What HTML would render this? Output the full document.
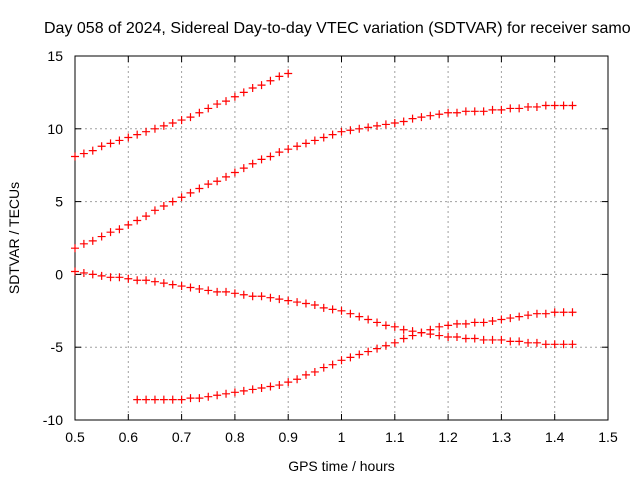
<!DOCTYPE html>
<html><head><meta charset="utf-8"><style>
body{margin:0;background:#fff}
svg{display:block;font-family:"Liberation Sans",sans-serif}
</style></head><body>
<svg id="chart" width="640" height="480"></svg>
<script>
const xTicks=[0.5,0.6,0.7,0.8,0.9,1,1.1,1.2,1.3,1.4,1.5];
const xTickLabels=["0.5","0.6","0.7","0.8","0.9","1","1.1","1.2","1.3","1.4","1.5"];
const yTicks=[-10,-5,0,5,10,15];
const yTickLabels=["-10","-5","0","5","10","15"];
const seriesAStart=0.5;
const seriesA=[8.1,8.3,8.5,8.8,9.0,9.2,9.4,9.6,9.8,10.0,10.2,10.4,10.6,10.8,11.1,11.4,11.7,11.9,12.2,12.5,12.8,13.0,13.3,13.6,13.8];
const seriesBStart=0.5;
const seriesB=[1.8,2.1,2.3,2.6,2.9,3.1,3.4,3.7,4.0,4.4,4.7,5.0,5.3,5.6,5.9,6.2,6.4,6.7,7.0,7.3,7.6,7.9,8.1,8.4,8.6,8.8,9.0,9.2,9.4,9.6,9.8,9.9,10.0,10.1,10.2,10.3,10.4,10.5,10.7,10.8,10.9,11.0,11.1,11.1,11.2,11.2,11.2,11.3,11.3,11.4,11.4,11.5,11.5,11.6,11.6,11.6,11.6];
const seriesCStart=0.5;
const seriesC=[0.2,0.1,0.0,-0.1,-0.2,-0.2,-0.3,-0.4,-0.4,-0.5,-0.6,-0.7,-0.8,-0.9,-1.0,-1.1,-1.2,-1.2,-1.3,-1.4,-1.5,-1.5,-1.6,-1.7,-1.8,-1.9,-2.0,-2.1,-2.3,-2.4,-2.5,-2.7,-2.9,-3.1,-3.3,-3.5,-3.6,-3.8,-3.9,-4.0,-4.1,-4.2,-4.3,-4.3,-4.4,-4.4,-4.5,-4.5,-4.5,-4.6,-4.6,-4.7,-4.7,-4.8,-4.8,-4.8,-4.8];
const seriesDStart=0.6167;
const seriesD=[-8.6,-8.6,-8.6,-8.6,-8.6,-8.6,-8.5,-8.5,-8.4,-8.3,-8.2,-8.1,-8.0,-7.9,-7.8,-7.7,-7.6,-7.4,-7.2,-6.9,-6.7,-6.4,-6.2,-5.9,-5.7,-5.5,-5.3,-5.1,-4.9,-4.7,-4.4,-4.2,-4.0,-3.8,-3.6,-3.5,-3.4,-3.4,-3.3,-3.3,-3.2,-3.1,-3.0,-2.9,-2.8,-2.7,-2.7,-2.6,-2.6,-2.6];
const stepHours=1/60;

const L=75,R=608,T=56,B=420;
const X=v=>L+(v-0.5)/(1.0)*(R-L);
const Y=v=>B-(v+10)/25*(B-T);
const NS="http://www.w3.org/2000/svg";
const svg=document.getElementById('chart');
function mk(tag,attrs,parent){const e=document.createElementNS(NS,tag);for(const k in attrs)e.setAttribute(k,attrs[k]);(parent||svg).appendChild(e);return e;}

const grid=mk('g',{});


xTicks.forEach((t,i)=>{
  const x=X(t);
  if(i>0&&i<xTicks.length-1)mk('line',{x1:x,y1:T,x2:x,y2:B,stroke:'#a0a0a0','stroke-dasharray':'2,3'},grid);
  mk('line',{x1:x,y1:B,x2:x,y2:B-6,stroke:'#000'},grid);
  mk('line',{x1:x,y1:T,x2:x,y2:T+6,stroke:'#000'},grid);
  const tx=mk('text',{x:x,y:B+22,'text-anchor':'middle','font-size':'14'});
  
  
  tx.textContent=xTickLabels[i];
});
yTicks.forEach((t,i)=>{
  const y=Y(t);
  if(i>0&&i<yTicks.length-1)mk('line',{x1:L,y1:y,x2:R,y2:y,stroke:'#a0a0a0','stroke-dasharray':'2,3'},grid);
  mk('line',{x1:L,y1:y,x2:L+6,y2:y,stroke:'#000'},grid);
  mk('line',{x1:R,y1:y,x2:R-6,y2:y,stroke:'#000'},grid);
  const ty=mk('text',{x:L-12,y:y+5,'text-anchor':'end','font-size':'14'});
  
  
  ty.textContent=yTickLabels[i];
});
const frame=mk('rect',{x:L,y:T,width:R-L,height:B-T,fill:'none',stroke:'#000','stroke-width':1});



function drawSeries(vals,start,name){
  const g=mk('g',{stroke:'#ff0000','stroke-width':1.2});
  
  
  vals.forEach((v,i)=>{
    const x=X(start+i*stepHours),y=Y(v);
    const p=mk('path',{d:`M${x-4},${y}H${x+4}M${x},${y-4}V${y+4}`},g);
    
    
  });
}
drawSeries(seriesA,seriesAStart,'series-a');
drawSeries(seriesB,seriesBStart,'series-b');
drawSeries(seriesC,seriesCStart,'series-c');
drawSeries(seriesD,seriesDStart,'series-d');

const title=mk('text',{x:44,y:33,'font-size':'16'});


title.textContent='Day 058 of 2024, Sidereal Day-to-day VTEC variation (SDTVAR) for receiver samo';
const xt=mk('text',{x:(L+R)/2,y:471,'text-anchor':'middle','font-size':'14'});


xt.textContent='GPS time / hours';
const yt=mk('text',{x:0,y:0,'text-anchor':'middle','font-size':'14',transform:`translate(19,${(T+B)/2}) rotate(-90)`});


yt.textContent='SDTVAR / TECUs';
</script>
</body></html>
